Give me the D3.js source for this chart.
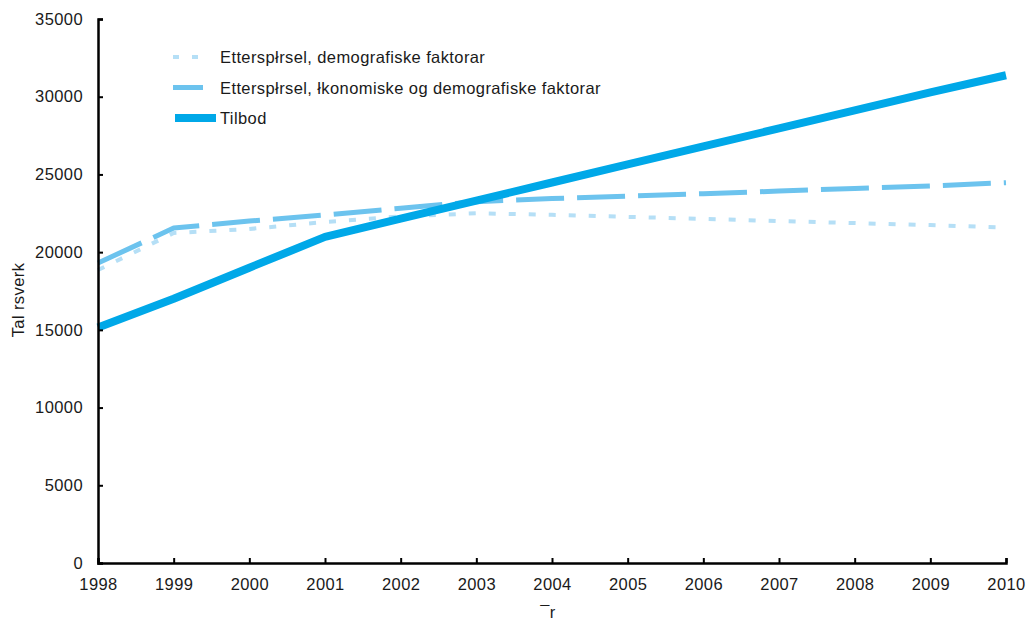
<!DOCTYPE html>
<html><head><meta charset="utf-8">
<script src="https://cdn.jsdelivr.net/npm/d3@7"></script>
<style>body{margin:0;background:#fff}text{font-family:"Liberation Sans",Arial,sans-serif;fill:#1a1a1a;letter-spacing:0.4px}</style>
</head><body><svg id="c" width="1027" height="623"></svg>
<script>
const years = [1998,1999,2000,2001,2002,2003,2004,2005,2006,2007,2008,2009,2010];
const demoValues = [18850,21230,21490,21940,22300,22500,22400,22270,22140,22000,21870,21740,21580];
const econDemoValues = [19300,21550,22000,22390,22830,23250,23450,23600,23760,23930,24100,24260,24470];
const supplyValues = [15150,17000,19000,20980,22150,23320,24480,25640,26800,27960,29120,30280,31380];
const yTicks = [0,5000,10000,15000,20000,25000,30000,35000];
const seriesNames = ["Etterspłrsel, demografiske faktorar","Etterspłrsel, łkonomiske og demografiske faktorar","Tilbod"];

const svg = d3.select("#c");
const x = d3.scaleLinear().domain([1998,2010]).range([98,1006]);
const y = d3.scaleLinear().domain([0,35000]).range([563,19]);
const FS = 16.5;

const series = [
  {name: seriesNames[0], values: demoValues, color:"#b5dff6", width:4, dash:"7,13"},
  {name: seriesNames[1], values: econDemoValues, color:"#6cc3ee", width:5, dash:"48,13"},
  {name: seriesNames[2], values: supplyValues, color:"#00a8e8", width:8, dash:null}
];
const line = d3.line().x((d,i)=>x(years[i])).y(d=>y(d));
series.forEach(s=>{
  const p = svg.append("path").attr("d", line(s.values)).attr("fill","none")
    .attr("stroke", s.color).attr("stroke-width", s.width).attr("stroke-linejoin","round");
  if (s.dash) p.attr("stroke-dasharray", s.dash);
});

// axes
const yAxis = d3.axisLeft(y).tickValues(yTicks).tickSize(-5).tickPadding(15).tickFormat(d3.format("d"));
const gy = svg.append("g").attr("transform","translate(98,0)").call(yAxis);
const xAxis = d3.axisBottom(x).tickValues(years).tickSize(-5).tickPadding(15).tickFormat(d3.format("d"));
const gx = svg.append("g").attr("transform","translate(0,563)").call(xAxis);
[gx,gy].forEach(g=>{
  g.select(".domain").attr("stroke","#000").attr("stroke-width",2.5);
  g.selectAll(".tick line").attr("stroke","#000").attr("stroke-width",2);
  g.selectAll(".tick text").attr("font-size",FS).attr("fill","#1a1a1a").style("font-family","Liberation Sans, Arial, sans-serif");
});

svg.append("text").attr("transform","translate(24,300) rotate(-90)").attr("text-anchor","middle")
  .attr("font-size",FS).text("Tal rsverk");
svg.append("text").attr("x",548).attr("y",618).attr("text-anchor","middle").attr("font-size",FS).text("¯r");

// legend
const lg = svg.append("g");
series.forEach((s,i)=>{
  const yy = 57 + i*30.5;
  const l = lg.append("line").attr("x1",173).attr("x2",i===2?216:203).attr("y1",yy).attr("y2",yy)
    .attr("stroke",s.color).attr("stroke-width",s.width);
  if (i===0) l.attr("stroke-dasharray","6,13");
  if (i===2) l.attr("x1",175);
  lg.append("text").attr("x",220).attr("y",yy+6).attr("font-size",FS).text(s.name);
});
</script></body></html>
